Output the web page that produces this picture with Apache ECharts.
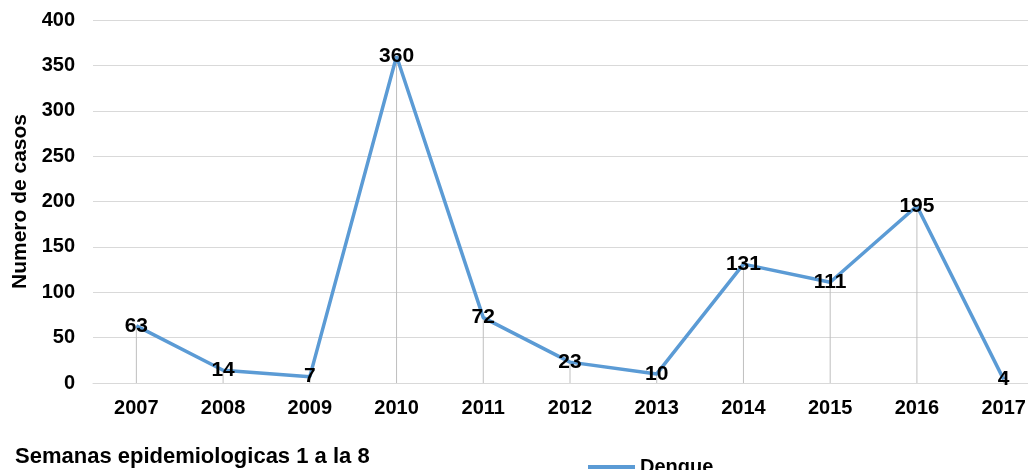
<!DOCTYPE html>
<html>
<head>
<meta charset="utf-8">
<script src="https://cdn.jsdelivr.net/npm/echarts@6/dist/echarts.min.js"></script>
<style>
  html, body { margin: 0; padding: 0; background: #fff; }
  #chart { width: 1028px; height: 470px; }
</style>
</head>
<body>
<div id="chart"></div>
<script>
const years = ["2007", "2008", "2009", "2010", "2011", "2012", "2013", "2014", "2015", "2016", "2017"];
const dengue = [63, 14, 7, 360, 72, 23, 10, 131, 111, 195, 4];
const yTicks = { min: 0, max: 400, interval: 50 };

const font = "Liberation Sans, Arial, sans-serif";

let chart = echarts.init(document.getElementById("chart"));

chart.setOption({
  animation: false,
  textStyle: { fontFamily: font },
  grid: {
    left: 93, top: 20, width: 954, height: 363,
    containLabel: false,
    outerBoundsMode: "none"
  },
  title: {
    text: "Semanas epidemiologicas 1 a la 8",
    left: 10,
    top: 441,
    textStyle: { fontSize: 22, fontWeight: "bold", color: "#000", fontFamily: font }
  },
  legend: {
    data: [{ name: "Dengue", icon: "rect" }],
    left: 583,
    top: 452,
    itemWidth: 47,
    itemHeight: 4,
    itemGap: 5,
    textStyle: { fontSize: 20, fontWeight: "bold", color: "#000", fontFamily: font }
  },
  xAxis: {
    type: "category",
    data: years,
    boundaryGap: true,
    axisLine: { lineStyle: { color: "#d9d9d9" } },
    axisTick: { show: false },
    axisLabel: { color: "#000", fontSize: 20, fontWeight: "bold", margin: 15 }
  },
  yAxis: {
    type: "value",
    min: yTicks.min,
    max: yTicks.max,
    interval: yTicks.interval,
    name: "Numero de casos",
    nameLocation: "middle",
    nameGap: 55,
    nameTextStyle: { color: "#000", fontSize: 21, fontWeight: "bold" },
    axisLine: { show: false },
    axisTick: { show: false },
    splitLine: { lineStyle: { color: "#d9d9d9" } },
    axisLabel: { color: "#000", fontSize: 20, fontWeight: "bold", margin: 18 }
  },
  series: [
    {
      name: "drop",
      type: "bar",
      data: dengue,
      barWidth: 1,
      itemStyle: { color: "#bfbfbf" },
      silent: true
    },
    {
      name: "Dengue",
      type: "line",
      data: dengue,
      z: 3,
      symbol: "circle",
      symbolSize: 0,
      showSymbol: true,
      lineStyle: { color: "#5b9bd5", width: 3.5 },
      itemStyle: { color: "#5b9bd5" },
      label: {
        show: true,
        position: "inside",
        color: "#000",
        fontSize: 21,
        fontWeight: "bold",
        fontFamily: font
      }
    }
  ]
}, true);

window.addEventListener("resize", () => {
  if (chart) {
    chart.resize();
  }
});
</script>
</body>
</html>
